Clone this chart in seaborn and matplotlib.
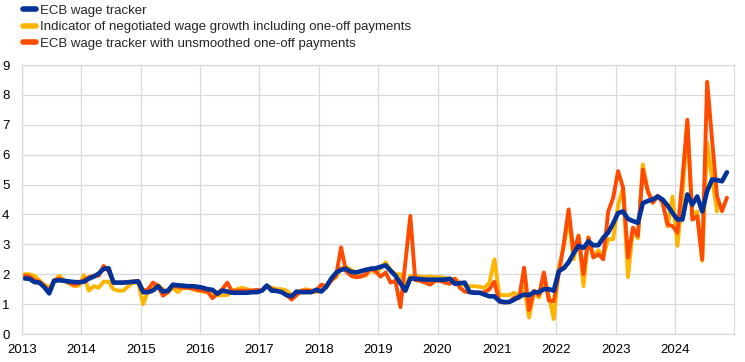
import matplotlib

matplotlib.use("Agg")
import matplotlib.pyplot as plt
import numpy as np
import pandas as pd
import seaborn as sns

sns.set_theme(style="white")
plt.rcParams["font.family"] = ["Liberation Sans", "DejaVu Sans"]

# monthly values (% y-o-y), Jan 2013 onwards
tracker = [
    1.86, 1.85, 1.74, 1.72, 1.57, 1.36, 1.78, 1.80, 1.78, 1.76, 1.74, 1.73,  # 2013
    1.75, 1.85, 1.92, 2.02, 2.18, 2.20, 1.72, 1.72, 1.72, 1.73, 1.75, 1.76,  # 2014
    1.40, 1.40, 1.46, 1.60, 1.42, 1.45, 1.65, 1.63, 1.62, 1.60, 1.60, 1.58,  # 2015
    1.55, 1.50, 1.48, 1.35, 1.45, 1.42, 1.38, 1.38, 1.38, 1.38, 1.40, 1.40,  # 2016
    1.45, 1.62, 1.45, 1.44, 1.40, 1.30, 1.26, 1.42, 1.40, 1.40, 1.40, 1.48,  # 2017
    1.42, 1.58, 1.85, 2.05, 2.15, 2.18, 2.08, 2.06, 2.10, 2.15, 2.18, 2.20,  # 2018
    2.25, 2.30, 2.12, 1.95, 1.70, 1.45, 1.86, 1.85, 1.84, 1.82, 1.82, 1.82,  # 2019
    1.82, 1.82, 1.85, 1.68, 1.70, 1.72, 1.40, 1.38, 1.38, 1.32, 1.26, 1.26,  # 2020
    1.10, 1.07, 1.07, 1.15, 1.25, 1.32, 1.30, 1.40, 1.40, 1.50, 1.50, 1.45,  # 2021
    2.10, 2.20, 2.40, 2.70, 2.95, 2.88, 3.10, 2.97, 2.97, 3.22, 3.40, 3.70,  # 2022
    4.05, 4.10, 3.85, 3.78, 3.72, 4.38, 4.45, 4.50, 4.60, 4.50, 4.30, 4.05,  # 2023
    3.83, 3.83, 4.67, 4.33, 4.60, 4.10, 4.78, 5.17, 5.15, 5.11, 5.41,        # 2024
]

negotiated = [
    2.00, 2.00, 1.95, 1.80, 1.65, 1.55, 1.75, 1.95, 1.80, 1.70, 1.60, 1.62,
    1.97, 1.45, 1.60, 1.55, 1.75, 1.75, 1.50, 1.45, 1.45, 1.60, 1.72, 1.70,
    1.00, 1.45, 1.55, 1.65, 1.50, 1.40, 1.55, 1.40, 1.55, 1.55, 1.50, 1.45,
    1.42, 1.40, 1.35, 1.30, 1.30, 1.30, 1.45, 1.50, 1.55, 1.50, 1.45, 1.45,
    1.45, 1.60, 1.55, 1.50, 1.50, 1.45, 1.30, 1.35, 1.45, 1.50, 1.45, 1.40,
    1.45, 1.55, 1.80, 1.90, 2.20, 2.25, 2.15, 2.05, 1.95, 1.95, 2.15, 2.05,
    2.20, 2.40, 2.15, 2.00, 2.00, 1.60, 1.95, 1.95, 1.92, 1.90, 1.92, 1.90,
    1.90, 1.88, 1.82, 1.85, 1.72, 1.62, 1.60, 1.60, 1.58, 1.55, 1.72, 2.50,
    1.30, 1.30, 1.30, 1.38, 1.25, 1.60, 0.55, 1.40, 1.22, 1.72, 1.28, 0.50,
    2.20, 2.90, 3.90, 2.50, 3.30, 1.60, 3.24, 2.60, 2.80, 2.60, 3.17, 3.17,
    4.30, 4.90, 1.90, 3.50, 3.20, 5.67, 4.80, 4.40, 4.60, 4.45, 3.60, 4.60,
    2.95, 4.60, 7.00, 4.00, 4.10, 2.45, 6.40, 5.20, 4.10,
]

unsmoothed = [
    1.95, 1.92, 1.80, 1.75, 1.60, 1.45, 1.80, 1.85, 1.78, 1.72, 1.65, 1.70,
    1.80, 1.90, 1.95, 1.95, 2.28, 2.10, 1.72, 1.72, 1.72, 1.75, 1.75, 1.78,
    1.45, 1.50, 1.72, 1.60, 1.28, 1.40, 1.60, 1.58, 1.55, 1.55, 1.52, 1.48,
    1.45, 1.42, 1.20, 1.35, 1.50, 1.72, 1.42, 1.45, 1.45, 1.45, 1.45, 1.48,
    1.45, 1.62, 1.50, 1.45, 1.40, 1.30, 1.15, 1.30, 1.45, 1.45, 1.45, 1.45,
    1.65, 1.60, 1.78, 1.95, 2.90, 2.10, 1.95, 1.90, 1.92, 2.00, 2.20, 2.10,
    1.92, 2.06, 1.72, 1.78, 0.90, 2.40, 3.95, 1.80, 1.78, 1.72, 1.65, 1.78,
    1.78, 1.72, 1.68, 1.85, 1.55, 1.42, 1.40, 1.40, 1.38, 1.40, 1.50, 1.75,
    1.08, 1.05, 1.08, 1.22, 1.20, 2.22, 0.80, 1.45, 1.30, 2.06, 1.12, 1.10,
    2.00, 3.00, 4.17, 2.72, 3.28, 2.00, 3.22, 2.56, 2.67, 2.50, 4.10, 4.55,
    5.45, 4.90, 2.56, 3.56, 3.28, 5.50, 4.78, 4.39, 4.63, 4.39, 3.67, 3.61,
    3.39, 5.17, 7.17, 3.83, 3.94, 2.50, 8.44, 6.50, 4.61, 4.11, 4.56,
]

labels = [
    "ECB wage tracker",
    "Indicator of negotiated wage growth including one-off payments",
    "ECB wage tracker with unsmoothed one-off payments",
]
colors = ["#003299", "#FFB400", "#FF4B00"]
year_ticks = list(range(2013, 2025))


def month_axis(n):
    # each monthly point sits in the middle of its month
    return 2013 + (np.arange(n) + 0.5) / 12


fig = plt.figure(figsize=(7.45, 3.62), dpi=100)
ax = fig.add_axes([0.0295, 0.0773, 0.9562, 0.7431])

# yellow at the back, blue on top
sns.lineplot(x=month_axis(len(negotiated)), y=negotiated, color=colors[1],
             linewidth=2.8, ax=ax, label=labels[1])
sns.lineplot(x=month_axis(len(unsmoothed)), y=unsmoothed, color=colors[2],
             linewidth=2.8, ax=ax, label=labels[2])
sns.lineplot(x=month_axis(len(tracker)), y=tracker, color=colors[0],
             linewidth=3.3, ax=ax, label=labels[0])

ax.set_xlim(2013, 2025)
ax.set_ylim(0, 9)
ax.set_xticks(year_ticks)
ax.set_xticklabels([str(y) for y in year_ticks])
ax.set_yticks(range(0, 10))
ax.grid(True, color="#d9d9d9", linewidth=0.9)
ax.set_axisbelow(True)
for side in ax.spines.values():
    side.set_color("#d9d9d9")
    side.set_linewidth(0.9)
ax.tick_params(axis="both", length=0, labelsize=9.5, colors="#000000")
ax.tick_params(axis="x", pad=7)
ax.tick_params(axis="y", pad=9)
ax.set_xlabel("")
ax.set_ylabel("")

handles, _ = ax.get_legend_handles_labels()
ax.get_legend().remove()
order = [2, 0, 1]
leg = fig.legend([handles[i] for i in order], labels, loc="upper left",
                 bbox_to_anchor=(0.027, 0.995), frameon=False, fontsize=9.5,
                 handlelength=1.0, handletextpad=0.3, labelspacing=0.32,
                 borderpad=0.2, borderaxespad=0)
for line in leg.get_lines():
    line.set_linewidth(4.0)

fig.savefig("out.png", dpi=100)
plt.close(fig)
